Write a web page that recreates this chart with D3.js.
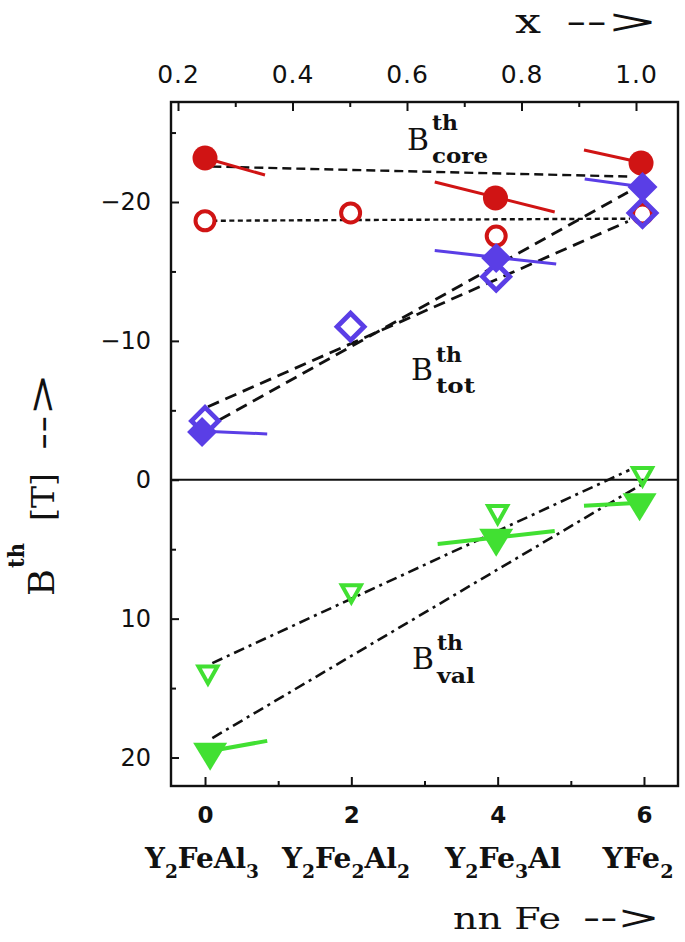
<!DOCTYPE html>
<html>
<head>
<meta charset="utf-8">
<script src="https://cdn.jsdelivr.net/npm/d3@7/dist/d3.min.js"></script>
<style>
  html, body { margin: 0; padding: 0; background: #fff; }
  svg { display: block; }
</style>
</head>
<body>
<svg id="chart" width="685" height="942"></svg>
<script>
// ---------------- DATA ----------------
const nnMajor = [0, 2, 4, 6];
const nnMinor = [1, 3, 5];
const xMajor = [0.2, 0.4, 0.6, 0.8, 1.0];
const xMinor = [0.3, 0.5, 0.7, 0.9];
const bMajor = [-20, -10, 0, 10, 20];
const bMinor = [-25, -15, -5, 5, 15];

// compound names: [text, isSubscript]
const compounds = [
  { nn: 0, parts: [["Y", 0], ["2", 1], ["FeAl", 0], ["3", 1]] },
  { nn: 2, parts: [["Y", 0], ["2", 1], ["Fe", 0], ["2", 1], ["Al", 0], ["2", 1]] },
  { nn: 4, parts: [["Y", 0], ["2", 1], ["Fe", 0], ["3", 1], ["Al", 0]] },
  { nn: 6, parts: [["YFe", 0], ["2", 1]] }
];

// [nn Fe, B (T)]
const coreFilled = [[0, -23.17], [3.97, -20.29], [5.96, -22.81]];
const coreOpen   = [[0, -18.65], [1.99, -19.21], [3.98, -17.55], [5.98, -19.14]];
const totFilled  = [[-0.04, -3.44], [3.98, -15.97], [5.98, -21.08]];
const totOpen    = [[0, -4.24], [1.99, -11.02], [3.98, -14.62], [5.98, -19.21]];
const valOpen    = [[0.04, 13.85], [2.0, 8.0], [4.0, 2.3], [5.98, -0.43]];
const valFilled  = [[0.07, 19.6], [3.98, 4.2], [5.94, 1.65]];

// slope segments [n1, B1, n2, B2]
const coreSlopes = [[0, -23.17, 0.82, -21.94], [3.14, -21.44, 4.78, -19.28], [5.18, -23.74, 5.99, -22.81]];
const totSlopes  = [[0, -3.5, 0.85, -3.3], [3.14, -16.5, 4.80, -15.54], [5.19, -21.66, 5.99, -21.08]];
const valSlopes  = [[0, 19.6, 0.85, 18.8], [3.18, 4.62, 4.78, 3.69], [5.18, 1.87, 5.95, 1.66]];

// black guide lines [n1, B1, n2, B2]
const coreFilledFit = [0.1, -22.55, 5.81, -21.83];
const coreOpenFit   = [0.1, -18.65, 5.81, -18.8];
const totOpenFit    = [0.04, -5.26, 5.78, -18.6];
const totFilledFit  = [0.2, -4.32, 5.78, -20.7];
const valOpenFit    = [0.1, 13.2, 5.8, -0.7];
const valFilledFit  = [0.1, 18.6, 5.96, 0.36];

// ---------------- CHART ----------------
const RED = "#d01414", BLUE = "#5a3ee6", GREEN = "#41e032";
const TYPE = "'DejaVu Serif', 'Liberation Serif', serif";
const SANS = "'DejaVu Sans', sans-serif";
const INK = "#111";

const svg = d3.select("#chart");
const L = 171, R = 678, T = 102, B = 786;

const x = d3.scaleLinear().domain([-0.465, 6.465]).range([L, R]);
const xt = d3.scaleLinear().domain([0.2, 1.0]).range([178, 636]);
const y = d3.scaleLinear().domain([-27.2, 22.05]).range([T, B]);

// axes
function styleAxis(g) {
  g.select(".domain").remove();
  g.selectAll(".tick line").attr("stroke", INK).attr("stroke-width", 2);
}
svg.append("g").attr("transform", `translate(${L},0)`)
  .call(d3.axisLeft(y).tickValues(bMajor).tickSize(-8).tickPadding(20))
  .call(styleAxis)
  .call(g => g.selectAll("text").attr("font-family", SANS).attr("font-size", 24).attr("fill", INK));
svg.append("g").attr("transform", `translate(${L},0)`)
  .call(d3.axisLeft(y).tickValues(bMinor).tickSize(-5).tickFormat(""))
  .call(styleAxis);

svg.append("g").attr("transform", `translate(0,${B})`)
  .call(d3.axisBottom(x).tickValues(nnMajor).tickSize(-9).tickPadding(21).tickFormat(d3.format("d")))
  .call(styleAxis)
  .call(g => g.selectAll("text").attr("font-family", SANS).attr("font-weight", "bold").attr("font-size", 23).attr("fill", INK));
svg.append("g").attr("transform", `translate(0,${B})`)
  .call(d3.axisBottom(x).tickValues(nnMinor).tickSize(-5).tickFormat(""))
  .call(styleAxis);

svg.append("g").attr("transform", `translate(0,${T})`)
  .call(d3.axisTop(xt).tickValues(xMajor).tickSize(-9).tickPadding(19).tickFormat(d3.format(".1f")))
  .call(styleAxis)
  .call(g => g.selectAll("text").attr("font-family", SANS).attr("font-size", 25).attr("fill", INK).attr("letter-spacing", 1));
svg.append("g").attr("transform", `translate(0,${T})`)
  .call(d3.axisTop(xt).tickValues(xMinor).tickSize(-5).tickFormat(""))
  .call(styleAxis);

// frame
svg.append("rect").attr("x", L).attr("y", T).attr("width", R - L).attr("height", B - T)
  .attr("fill", "none").attr("stroke", INK).attr("stroke-width", 2.4);

// zero line
svg.append("line").attr("x1", L).attr("x2", R).attr("y1", y(0)).attr("y2", y(0))
  .attr("stroke", INK).attr("stroke-width", 2.2);

// guide lines
function guide(l, dash, w) {
  svg.append("line")
    .attr("x1", x(l[0])).attr("y1", y(l[1])).attr("x2", x(l[2])).attr("y2", y(l[3]))
    .attr("stroke", INK).attr("stroke-width", w).attr("stroke-dasharray", dash);
}
guide(coreFilledFit, "9,5", 2.4);
guide(coreOpenFit, "5,3.5", 2.4);
guide(totOpenFit, "12,7", 2.8);
guide(totFilledFit, "12,7", 2.8);
guide(valOpenFit, "11,5,3,5", 2.6);
guide(valFilledFit, "11,5,3,5", 2.6);

function segs(data, color, w) {
  svg.append("g").selectAll("line").data(data).join("line")
    .attr("x1", d => x(d[0])).attr("y1", d => y(d[1]))
    .attr("x2", d => x(d[2])).attr("y2", d => y(d[3]))
    .attr("stroke", color).attr("stroke-width", w).attr("stroke-linecap", "butt");
}

// core (red circles)
segs(coreSlopes, RED, 3);
svg.append("g").selectAll("circle").data(coreOpen).join("circle")
  .attr("cx", d => x(d[0])).attr("cy", d => y(d[1])).attr("r", 9.5)
  .attr("fill", "#fff").attr("stroke", RED).attr("stroke-width", 4);
svg.append("g").selectAll("circle").data(coreFilled).join("circle")
  .attr("cx", d => x(d[0])).attr("cy", d => y(d[1])).attr("r", 12.5)
  .attr("fill", RED);

// tot (blue diamonds)
const diamond = h => `M0,${-h}L${h},0L0,${h}L${-h},0Z`;
segs(totSlopes, BLUE, 3);
svg.append("g").selectAll("path").data(totOpen).join("path")
  .attr("transform", d => `translate(${x(d[0])},${y(d[1])})`)
  .attr("d", diamond(13.5)).attr("fill", "none").attr("stroke", BLUE).attr("stroke-width", 4.8);
svg.append("g").selectAll("path").data(totFilled).join("path")
  .attr("transform", d => `translate(${x(d[0])},${y(d[1])})`)
  .attr("d", diamond(15)).attr("fill", BLUE);

// val (green triangles, pointing down)
const tri = (w, h) => `M${-w / 2},${-h / 3}L${w / 2},${-h / 3}L0,${2 * h / 3}Z`;
segs(valSlopes, GREEN, 4);
svg.append("g").selectAll("path").data(valOpen).join("path")
  .attr("transform", d => `translate(${x(d[0])},${y(d[1])})`)
  .attr("d", tri(19, 17)).attr("fill", "none").attr("stroke", GREEN).attr("stroke-width", 4)
  .attr("stroke-linejoin", "miter");
svg.append("g").selectAll("path").data(valFilled).join("path")
  .attr("transform", d => `translate(${x(d[0])},${y(d[1])})`)
  .attr("d", tri(34, 28)).attr("fill", GREEN);

// helper: text with fixed advance length
function fitText(parent, str, px, py, size, len, bold) {
  return parent.append("text").attr("x", px).attr("y", py)
    .attr("font-family", TYPE).attr("font-size", size).attr("fill", INK)
    .attr("font-weight", bold ? "bold" : "normal")
    .attr("textLength", len).attr("lengthAdjust", "spacingAndGlyphs").text(str);
}

// in-plot labels B^th_xxx
function bLabel(bx, by, supY, subY, sub, subLen) {
  const g = svg.append("g");
  fitText(g, "B", bx, by, 29, 22, false);
  fitText(g, "th", bx + 25, supY, 20, 26, true);
  fitText(g, sub, bx + 25, subY, 20, subLen, true);
}
bLabel(407, 150, 130, 163, "core", 56);
bLabel(411, 380, 362, 393, "tot", 39);
bLabel(412, 669, 650, 683, "val", 38);

// compound labels
const compLayout = { 0: [202, 114], 2: [346, 128], 4: [503, 116], 6: [638, 71] };
compounds.forEach(c => {
  const [cx, len] = compLayout[c.nn];
  const t = svg.append("text").attr("x", cx).attr("y", 868)
    .attr("text-anchor", "middle").attr("font-family", TYPE).attr("font-weight", "bold").attr("fill", INK)
    .attr("textLength", len).attr("lengthAdjust", "spacingAndGlyphs");
  let sub = 0;
  c.parts.forEach(([s, isSub]) => {
    const dy = isSub && !sub ? 10 : (!isSub && sub ? -10 : 0);
    sub = isSub;
    t.append("tspan").attr("dy", dy).attr("font-size", isSub ? 18 : 27).text(s);
  });
});

// axis titles
fitText(svg, "nn Fe", 453, 929, 29, 108, false);
fitText(svg, "-->", 583, 929, 34, 77, false);
fitText(svg, "x", 515, 33, 34, 26, false);
fitText(svg, "-->", 566, 33, 34, 92, false);

const yl = svg.append("g").attr("transform", "translate(54,597) rotate(-90)");
fitText(yl, "B", 1, 0, 36, 27, false);
fitText(yl, "th", 29, -30, 22, 25, true);
fitText(yl, "[T]", 76, 0, 32, 48, false);
fitText(yl, "-->", 147, 0, 36, 77, false);
</script>
</body>
</html>
